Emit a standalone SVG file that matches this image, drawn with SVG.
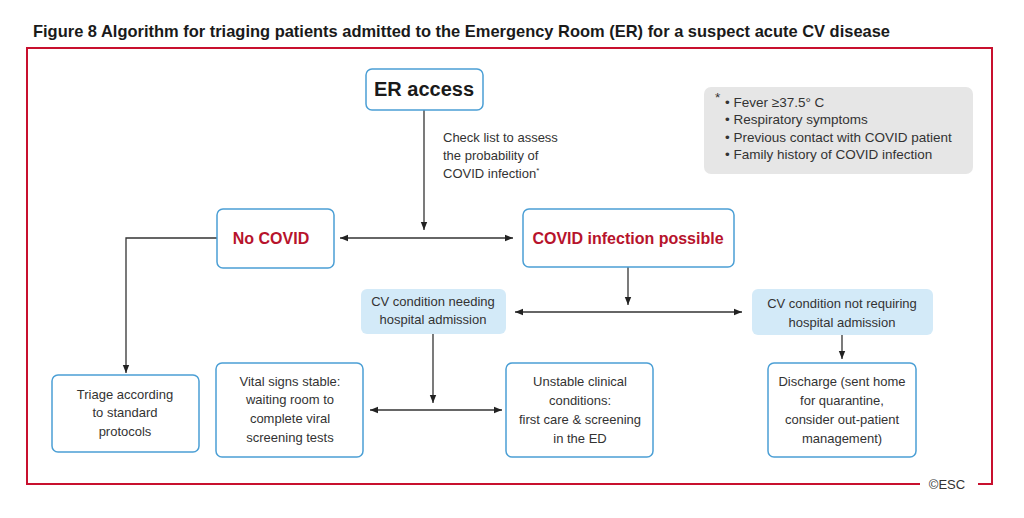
<svg xmlns="http://www.w3.org/2000/svg" width="1024" height="518" viewBox="0 0 1024 518">
<defs>
<style>
.t{font-family:"Liberation Sans",Arial,sans-serif;fill:#333;font-size:13px;text-anchor:middle}
.n{font-family:"Liberation Sans",Arial,sans-serif;fill:#333;font-size:13.5px}
.red{font-family:"Liberation Sans",Arial,sans-serif;fill:#b7132c;font-size:16px;font-weight:bold;text-anchor:middle}
.box{fill:#fff;stroke:#4b9fd5;stroke-width:1.5}
.cv{fill:#d3eaf8;stroke:none}
.c{fill:none;stroke:#333;stroke-width:1.3}
</style>
<marker id="ah" viewBox="0 0 10 10" refX="10" refY="5" markerWidth="8" markerHeight="8" markerUnits="userSpaceOnUse" orient="auto-start-reverse">
<path d="M0,1 L10,5 L0,9 Z" fill="#222"/>
</marker>
</defs>
<rect width="1024" height="518" fill="#fff"/>
<text x="33" y="37" font-family="'Liberation Sans',Arial,sans-serif" font-size="17" font-weight="bold" fill="#1a1a1a" textLength="857" lengthAdjust="spacingAndGlyphs">Figure 8 Algorithm for triaging patients admitted to the Emergency Room (ER) for a suspect acute CV disease</text>
<path d="M920,484 H27 V48 H992 V484 H978" fill="none" stroke="#c8102e" stroke-width="2"/>
<text x="947" y="489" class="t" font-size="14">©ESC</text>

<g id="connectors">
<path class="c" d="M424,110 V230" marker-end="url(#ah)"/>
<path class="c" d="M340,238 H513" marker-start="url(#ah)" marker-end="url(#ah)"/>
<path class="c" d="M217,238 H126 V373" marker-end="url(#ah)"/>
<path class="c" d="M628,267 V305" marker-end="url(#ah)"/>
<path class="c" d="M515,312 H742" marker-start="url(#ah)" marker-end="url(#ah)"/>
<path class="c" d="M433,334 V403" marker-end="url(#ah)"/>
<path class="c" d="M370,410 H502" marker-start="url(#ah)" marker-end="url(#ah)"/>
<path class="c" d="M842,335 V359" marker-end="url(#ah)"/>
</g>

<g id="checklist-label">
<text class="t" style="text-anchor:start" x="443" y="142">Check list to assess</text>
<text class="t" style="text-anchor:start" x="443" y="160">the probability of</text>
<text class="t" style="text-anchor:start" x="443" y="178">COVID infection<tspan font-size="8" dy="-5">*</tspan></text>
</g>

<g id="note">
<rect x="704" y="87" width="269" height="87" rx="7" fill="#e6e6e6"/>
<text class="n" x="715" y="102" font-size="9">*</text>
<text class="n" x="725" y="107">•  Fever ≥37.5° C</text>
<text class="n" x="725" y="124">•  Respiratory symptoms</text>
<text class="n" x="725" y="142">•  Previous contact with COVID patient</text>
<text class="n" x="725" y="159">•  Family history of COVID infection</text>
</g>

<g id="er-access">
<rect class="box" x="366" y="69" width="117" height="41" rx="6"/>
<text x="424" y="96" font-family="'Liberation Sans',Arial,sans-serif" font-size="20" font-weight="bold" fill="#1a1a1a" text-anchor="middle">ER access</text>
</g>

<g id="no-covid">
<rect class="box" x="217" y="209" width="117" height="59" rx="6"/>
<text class="red" x="271" y="244">No COVID</text>
</g>

<g id="covid-possible">
<rect class="box" x="523" y="209" width="211" height="58" rx="6"/>
<text class="red" x="628" y="244">COVID infection possible</text>
</g>

<g id="cv-needing">
<rect class="cv" x="361" y="289" width="145" height="45" rx="6"/>
<text class="t" x="433" y="306">CV condition needing</text>
<text class="t" x="433" y="324">hospital admission</text>
</g>

<g id="cv-not-requiring">
<rect class="cv" x="752" y="289" width="181" height="46" rx="6"/>
<text class="t" x="842" y="308">CV condition not requiring</text>
<text class="t" x="842" y="327">hospital admission</text>
</g>

<g id="triage">
<rect class="box" x="52" y="375" width="147" height="77" rx="6"/>
<text class="t" x="125" y="399">Triage according</text>
<text class="t" x="125" y="417">to standard</text>
<text class="t" x="125" y="436">protocols</text>
</g>

<g id="vital-signs">
<rect class="box" x="216" y="363" width="147" height="94" rx="6"/>
<text class="t" x="290" y="386">Vital signs stable:</text>
<text class="t" x="290" y="404">waiting room to</text>
<text class="t" x="290" y="423">complete viral</text>
<text class="t" x="290" y="442">screening tests</text>
</g>

<g id="unstable">
<rect class="box" x="506" y="363" width="147" height="94" rx="6"/>
<text class="t" x="580" y="386">Unstable clinical</text>
<text class="t" x="580" y="405">conditions:</text>
<text class="t" x="580" y="424">first care &amp; screening</text>
<text class="t" x="580" y="443">in the ED</text>
</g>

<g id="discharge">
<rect class="box" x="768" y="363" width="148" height="94" rx="6"/>
<text class="t" x="842" y="386">Discharge (sent home</text>
<text class="t" x="842" y="405">for quarantine,</text>
<text class="t" x="842" y="424">consider out-patient</text>
<text class="t" x="842" y="443">management)</text>
</g>
</svg>
